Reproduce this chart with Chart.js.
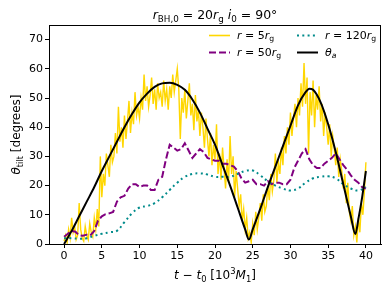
<!DOCTYPE html>
<html lang="en">
<head>
    <meta charset="UTF-8" />
    <title>Tilt angle evolution</title>
    <script src="https://cdn.jsdelivr.net/npm/chart.js"></script>
    <style>
        body { margin: 0; background: #fff; }
    </style>
</head>
<body>
    <canvas id="tiltChart" width="390" height="293"></canvas>

    <script>
        // r = 5 r_g (noisy, every 0.2)
        const r5Step = 0.2;
        const r5Values = [
            1, 3, 0.5, 5, 2,      9, 4, 6, 1.5, 3,      14, 5, 2, 1, 6,      3, 1.5, 7, 4, 2.5,
            9, 5, 12, 6, 30,      16, 24, 20, 31, 27,   23, 34, 28, 30, 38,  31, 47, 35, 40, 33,
            44, 36, 42, 49, 38,   45, 41, 52, 44, 47,   43, 50, 46, 58, 49,  54, 47, 51, 57, 48,
            53, 46, 55, 50, 52,   47, 56, 49, 53, 46,   54, 50, 58, 52, 56,  60, 53, 36, 50, 45,
            53, 43, 49, 55, 44,   48, 39, 51, 42, 46,   37, 45, 40, 33, 43,  36, 30, 38, 27, 34,
            29, 41, 24, 31, 22,   33, 26, 19, 29, 21,   37, 24, 30, 16, 25,  19, 13, 17, 8, 12,
            5, 9, 2, 4, 0.5,      7, 3, 11, 5, 9,       14, 8, 17, 11, 13,   20, 15, 24, 18, 22,
            31, 21, 28, 24, 33,   27, 37, 31, 40, 34,   45, 37, 43, 48, 40,  50, 44, 55, 47, 62,
            48, 57, 31, 52, 44,   56, 40, 51, 46, 54,   42, 48, 37, 45, 40,  34, 41, 30, 37, 33,
            27, 33, 23, 29, 25,   19, 24, 14, 21, 11,   8, 13, 3, 6, 0.5,    9, 4, 14, 10, 18,
            28
        ];

        // r = 50 r_g (every 0.5)
        const r50Step = 0.5;
        const r50Values = [
            2.5, 3.5, 4.5, 4.2, 3, 2.8, 3.2, 3, 4.5, 8,
            9.5, 10.2, 10.5, 11, 14.5, 16, 16.5, 19, 20.5, 20.5,
            19.5, 20, 20, 18.5, 18.5, 22, 23, 29, 34, 33,
            32, 32.5, 34.5, 32, 29.5, 31, 32.5, 31.5, 29.5, 29,
            28.5, 28.5, 27.5, 27.5, 27, 26.5, 25, 22.5, 21, 21.5,
            22, 20.5, 20.5, 20, 21.5, 20.5, 21, 21, 20.5, 20.5,
            22, 26, 28.5, 31, 32.5, 29, 27, 26, 26, 27.5,
            28.5, 29.5, 31, 29, 27, 25.5, 23.5, 22, 21, 19.5,
            19
        ];

        // r = 120 r_g (every 1)
        const r120Values = [
            2, 2, 1.8, 2, 2.8, 3.5, 4, 4.5, 7.5, 10.5,
            12.5, 13, 14, 16, 18.5, 21, 23, 24, 24.2, 23.8,
            23, 23, 23, 24, 25, 25.2, 23.5, 21.5, 20, 19,
            18.3, 19, 21, 22.5, 23, 23.2, 22.5, 20.5, 19, 18.3,
            19.5
        ];

        // theta_a
        const thetaT = [0, 1, 2, 3, 4, 5, 6, 7, 8, 9, 10, 11, 12, 13, 14, 15, 16, 17, 18, 19, 20,
            21, 22, 23, 24, 24.5, 25, 26, 27, 28, 29, 30, 31, 32, 32.5, 33, 34, 35, 36, 37, 38, 38.6, 39, 39.5, 40];
        const thetaA = [0, 4.5, 9.5, 14.5, 19.5, 25, 30, 35, 40, 44.5, 48.5, 51.5, 53.8, 55, 55.2, 54.5, 52.8, 49.5, 45, 39.5, 34,
            27, 20, 12.5, 5, 1.5, 5, 12, 19.5, 26.5, 33.5, 40.5, 47.5, 52, 53.2, 52.8, 48.5, 41, 31.5, 20.5, 9.5, 3.4, 8.5, 16, 25];

        const xTicks = [0, 5, 10, 15, 20, 25, 30, 35, 40];
        const yTicks = [0, 10, 20, 30, 40, 50, 60, 70];

        const FONT = "'DejaVu Sans', sans-serif";

        const toPoints = (vals, step) => vals.map((v, i) => ({ x: +(i * step).toFixed(3), y: v }));

        // draws text made of pieces, some italic / subscript / superscript
        function richWidth(ctx, parts, size) {
            let w = 0;
            parts.forEach(p => {
                const s = (p.sub || p.sup) ? size * 0.7 : size;
                ctx.font = (p.i ? 'italic ' : '') + s + 'px ' + FONT;
                w += ctx.measureText(p.t).width;
            });
            return w;
        }
        function drawRich(ctx, parts, x, y, size, align) {
            let w = richWidth(ctx, parts, size);
            let cx = align === 'center' ? x - w / 2 : x;
            ctx.textBaseline = 'alphabetic';
            ctx.textAlign = 'left';
            ctx.fillStyle = '#000';
            parts.forEach(p => {
                const s = (p.sub || p.sup) ? size * 0.7 : size;
                ctx.font = (p.i ? 'italic ' : '') + s + 'px ' + FONT;
                let dy = p.sub ? size * 0.22 : (p.sup ? -size * 0.38 : 0);
                ctx.fillText(p.t, cx, y + dy);
                cx += ctx.measureText(p.t).width;
            });
        }

        const titleParts = [
            { t: 'r', i: true }, { t: 'BH,0', sub: true }, { t: ' = 20' }, { t: 'r', i: true }, { t: 'g', sub: true },
            { t: ' ' }, { t: 'i', i: true }, { t: '0', sub: true }, { t: ' = 90°' }
        ];
        const xLabelParts = [
            { t: 't', i: true }, { t: ' − ' }, { t: 't', i: true }, { t: '0', sub: true }, { t: ' [10' }, { t: '3', sup: true },
            { t: 'M', i: true }, { t: '1', sub: true }, { t: ']' }
        ];
        const yLabelParts = [
            { t: 'θ', i: true }, { t: 'tilt', sub: true }, { t: ' [degrees]' }
        ];

        const legendItems = [
            { x: 209, y: 39, color: '#FFD700', dash: [], width: 1.6, parts: [{ t: 'r', i: true }, { t: ' = 5' }, { t: 'r', i: true }, { t: 'g', sub: true }] },
            { x: 209, y: 56, color: '#800080', dash: [7, 3], width: 2, parts: [{ t: 'r', i: true }, { t: ' = 50' }, { t: 'r', i: true }, { t: 'g', sub: true }] },
            { x: 297, y: 39, color: '#008B8B', dash: [2, 3.3], width: 2, parts: [{ t: 'r', i: true }, { t: ' = 120' }, { t: 'r', i: true }, { t: 'g', sub: true }] },
            { x: 297, y: 56, color: '#000000', dash: [], width: 2, parts: [{ t: 'θ', i: true }, { t: 'a', i: true, sub: true }] }
        ];

        const decorPlugin = {
            id: 'decor',
            afterDraw(chart) {
                const ctx = chart.ctx;
                const a = chart.chartArea;
                ctx.save();
                // frame
                ctx.strokeStyle = '#000';
                ctx.lineWidth = 1;
                ctx.setLineDash([]);
                ctx.strokeRect(a.left + 0.5, a.top + 0.5, a.right - a.left - 1, a.bottom - a.top);

                drawRich(ctx, titleParts, (a.left + a.right) / 2, 19, 12.5, 'center');
                drawRich(ctx, xLabelParts, (a.left + a.right) / 2, 279, 12, 'center');

                ctx.save();
                ctx.translate(20, (a.top + a.bottom) / 2);
                ctx.rotate(-Math.PI / 2);
                drawRich(ctx, yLabelParts, 0, 0, 12, 'center');
                ctx.restore();

                legendItems.forEach(it => {
                    ctx.beginPath();
                    ctx.strokeStyle = it.color;
                    ctx.lineWidth = it.width;
                    ctx.setLineDash(it.dash);
                    ctx.moveTo(it.x, it.y - 3.5);
                    ctx.lineTo(it.x + 21, it.y - 3.5);
                    ctx.stroke();
                    ctx.setLineDash([]);
                    drawRich(ctx, it.parts, it.x + 28, it.y, 11, 'left');
                });
                ctx.restore();
            }
        };

        const ctx = document.getElementById('tiltChart').getContext('2d');

        new Chart(ctx, {
            type: 'line',
            data: {
                datasets: [
                    {
                        label: 'r = 5 rg',
                        data: toPoints(r5Values, r5Step),
                        borderColor: '#FFD700',
                        borderWidth: 1.4,
                        pointRadius: 0,
                        tension: 0,
                        order: 4
                    },
                    {
                        label: 'r = 50 rg',
                        data: toPoints(r50Values, r50Step),
                        borderColor: '#800080',
                        borderWidth: 2,
                        borderDash: [7, 3],
                        pointRadius: 0,
                        tension: 0,
                        order: 3
                    },
                    {
                        label: 'r = 120 rg',
                        data: toPoints(r120Values, 1),
                        borderColor: '#008B8B',
                        borderWidth: 2,
                        borderDash: [2, 3.3],
                        pointRadius: 0,
                        tension: 0.4,
                        order: 2
                    },
                    {
                        label: 'theta_a',
                        data: thetaT.map((t, i) => ({ x: t, y: thetaA[i] })),
                        borderColor: '#000000',
                        borderWidth: 2,
                        pointRadius: 0,
                        cubicInterpolationMode: 'monotone',
                        order: 1
                    }
                ]
            },
            options: {
                responsive: false,
                animation: false,
                devicePixelRatio: 1,
                layout: { padding: { left: 0, right: 9, top: 25, bottom: 0 } },
                plugins: {
                    legend: { display: false },
                    title: { display: false },
                    tooltip: { enabled: false }
                },
                scales: {
                    x: {
                        type: 'linear',
                        min: -2,
                        max: 42,
                        afterBuildTicks: s => { s.ticks = xTicks.map(v => ({ value: v })); },
                        afterFit: s => { s.height = 49; },
                        grid: { drawOnChartArea: false, drawTicks: true, tickLength: 4, color: '#000' },
                        border: { display: true, color: '#000', width: 1 },
                        ticks: { color: '#000', padding: 2, font: { family: FONT, size: 11 }, maxRotation: 0 }
                    },
                    y: {
                        type: 'linear',
                        min: 0,
                        max: 75,
                        afterBuildTicks: s => { s.ticks = yTicks.map(v => ({ value: v })); },
                        afterFit: s => { s.width = 49; },
                        grid: { drawOnChartArea: false, drawTicks: true, tickLength: 4, color: '#000' },
                        border: { display: true, color: '#000', width: 1 },
                        ticks: { color: '#000', padding: 2, font: { family: FONT, size: 11 } }
                    }
                }
            },
            plugins: [decorPlugin]
        });
    </script>
</body>
</html>
